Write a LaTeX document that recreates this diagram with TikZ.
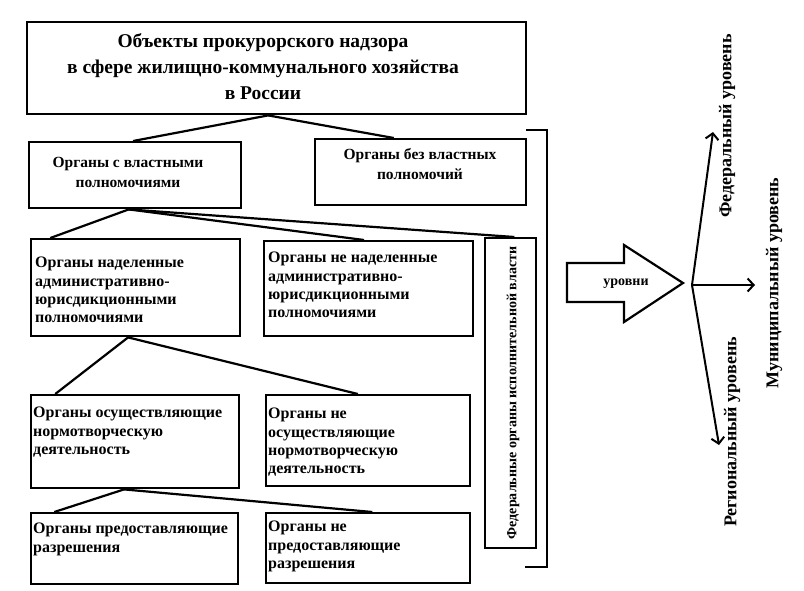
\documentclass[tikz,border=0pt]{standalone}
\usepackage{fontspec}
\setmainfont{Liberation Serif}
\usetikzlibrary{arrows.meta,calc}
\newcommand\mkbox[5]{\node[box,minimum width={(#4-#2)*1pt},minimum height={(#5-#3)*1pt}] (#1) at (#2,#3) {};}
\begin{document}
\begin{tikzpicture}[x=1pt,y=-1pt,
  box/.style={draw,line width=2.4pt,inner sep=0pt,anchor=north west},
  conn/.style={line width=2.2pt},
  harrow/.style={line width=2pt,-{Straight Barb[length=6pt,width=13pt]}},
  txt/.style={inner sep=0pt,anchor=north west,align=left,font=\bfseries\fontsize{16}{18.2}\selectfont},
  ctxt/.style={inner sep=0pt,anchor=north,align=center,font=\bfseries\fontsize{15.5}{20}\selectfont},
  vlab/.style={inner sep=0pt,rotate=90,font=\bfseries\fontsize{18}{20}\selectfont}]
\useasboundingbox[fill=white] (0,0) rectangle (804,590);
% boxes
\mkbox{top}{26}{21}{525}{113}
\mkbox{r1L}{28}{141}{240}{207}
\mkbox{r1R}{314}{138}{525}{204}
\mkbox{r2L}{30}{238}{239}{335}
\mkbox{r2M}{263}{240}{472}{335}
\mkbox{vert}{484}{237}{535}{547}
\mkbox{r3L}{30}{394}{238}{487}
\mkbox{r3M}{265}{394}{469}{485}
\mkbox{r4L}{30}{512}{237}{583}
\mkbox{r4M}{265}{512}{469}{582}
% texts
\node[inner sep=0pt,anchor=north,align=center,font=\bfseries\fontsize{19.5}{26}\selectfont] (ttl) at (263,33)
  {Объекты прокурорского надзора\\в сфере жилищно-коммунального хозяйства\\в России};
\node[ctxt] (t1L) at (128,157) {Органы с властными\\полномочиями};
\node[ctxt] (t1R) at (420,148) {Органы без властных\\полномочий};
\node[txt] (t2L) at (35,257) {Органы наделенные\\административно-\\юрисдикционными\\полномочиями};
\node[txt] (t2M) at (268,252) {Органы не наделенные\\административно-\\юрисдикционными\\полномочиями};
\node[txt] (t3L) at (33,407) {Органы осуществляющие\\нормотворческую\\деятельность};
\node[txt] (t3M) at (268,408) {Органы не\\осуществляющие\\нормотворческую\\деятельность};
\node[txt] (t4L) at (33,523) {Органы предоставляющие\\разрешения};
\node[txt] (t4M) at (268,521) {Органы не\\предоставляющие\\разрешения};
\node[inner sep=0pt,rotate=90,font=\bfseries\fontsize{14}{16}\selectfont] (tv) at (513,393) {Федеральные органы исполнительной власти};
% connectors
\draw[conn] ($(top.south west)!0.483!(top.south east)$) -- ($(r1L.north west)!0.49!(r1L.north east)$);
\draw[conn] ($(top.south west)!0.483!(top.south east)$) -- ($(r1R.north west)!0.374!(r1R.north east)$);
\draw[conn] ($(r1L.south west)!0.47!(r1L.south east)$) -- ($(r2L.north west)!0.096!(r2L.north east)$);
\draw[conn] ($(r1L.south west)!0.47!(r1L.south east)$) -- ($(r2M.north west)!0.478!(r2M.north east)$);
\draw[conn] ($(r1L.south west)!0.47!(r1L.south east)$) -- ($(vert.north west)!0.57!(vert.north east)$);
\draw[conn] ($(r2L.south west)!0.464!(r2L.south east)$) -- ($(r3L.north west)!0.12!(r3L.north east)$);
\draw[conn] ($(r2L.south west)!0.464!(r2L.south east)$) -- ($(r3M.north west)!0.45!(r3M.north east)$);
\draw[conn] ($(r3L.south west)!0.447!(r3L.south east)$) -- ($(r4L.north west)!0.116!(r4L.north east)$);
\draw[conn] ($(r3L.south west)!0.447!(r3L.south east)$) -- ($(r4M.north west)!0.52!(r4M.north east)$);
% bracket
\coordinate (bA) at (526,130);
\coordinate (bB) at (547,130);
\coordinate (bC) at (547,567);
\coordinate (bD) at (525,567);
\draw[conn] (bA) -- (bB) -- (bC) -- (bD);
% block arrow
\draw[line width=2.2pt,line join=miter] (567,263) -- (624,263) -- (624,245) -- (683,283) -- (624,322) -- (624,302) -- (567,302) -- cycle;
\node[inner sep=0pt,anchor=base,font=\bfseries\fontsize{14}{16}\selectfont] (lvl) at (626,285) {уровни};
% levels
\coordinate (hub) at (692,285);
\coordinate (fedtip) at (713,132);
\coordinate (muntip) at (755,285);
\coordinate (regtip) at (719,445);
\draw[harrow] (hub) -- (fedtip);
\draw[harrow] (hub) -- (muntip);
\draw[harrow] (hub) -- (regtip);
\node[vlab] (lfed) at (727,126) {Федеральный уровень};
\node[vlab] (lmun) at (774,283) {Муниципальный уровень};
\node[vlab] (lreg) at (732,432) {Региональный уровень};
\end{tikzpicture}
\end{document}
